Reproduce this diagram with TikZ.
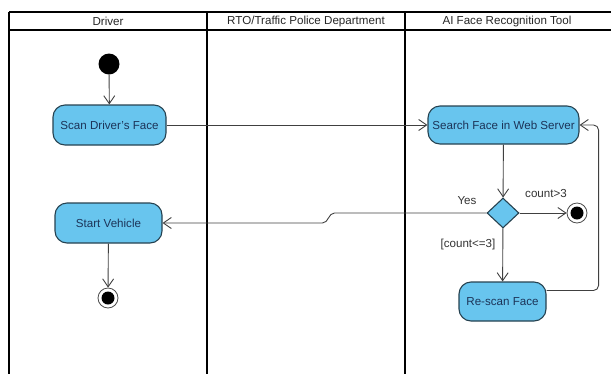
\documentclass[tikz,border=0pt]{standalone}
\usepackage{fontspec}
\setmainfont{Liberation Sans}
\usetikzlibrary{arrows.meta, shapes.geometric}

\definecolor{actfill}{RGB}{104,197,238}
\definecolor{actline}{RGB}{38,66,80}
\definecolor{acttext}{RGB}{28,52,88}
\definecolor{flowline}{RGB}{64,64,64}

\tikzset{
  txt/.style={font=\fontsize{11.6}{13}\selectfont},
  action/.style={txt, draw=actline, fill=actfill, text=acttext, line width=1.1pt,
    rounded corners=12pt, inner sep=0pt},
  decision/.style={diamond, draw=actline, fill=actfill, line width=1.1pt,
    minimum width=32pt, minimum height=30pt, inner sep=0pt},
  flow/.style={draw=flowline, line width=0.9pt, -{Straight Barb[length=8pt,width=11pt]}},
  lane/.style={line width=1.8pt},
  startstate/.style={circle, fill=black, minimum size=21pt, inner sep=0pt},
  endstate/.style={circle, draw=black!70, fill=white, line width=0.8pt,
    minimum size=20pt, inner sep=0pt,
    path picture={\fill[black] (path picture bounding box.center) circle (6.5pt);}},
  guard/.style={txt, text=black!80, inner sep=0pt}
}

\begin{document}
\begin{tikzpicture}[x=1pt,y=-1pt]
	\useasboundingbox (0,0) rectangle (611,376);

	% swimlanes
	\draw[lane](9,12) -- (611,12);
	\draw[lane](9,30) -- (611,30);
	\foreach \x in {9,207,405}
		\draw[lane](\x,12) -- (\x,374);
	\node[txt, text=black!85](hdriver) at (108,21) {Driver};
	\node[txt, text=black!85](hrto) at (306,21) {RTO/Traffic Police Department};
	\node[txt, text=black!85](htool) at (507,21) {AI Face Recognition Tool};

	% states
	\node[startstate](init) at (109,64) {};
	\node[action, minimum width=113pt, minimum height=40pt](scan) at (109.5,125) {Scan Driver's Face};
	\node[action, minimum width=151pt, minimum height=38pt](search) at (503.5,125) {Search Face in Web Server};
	\node[decision](dec) at (503,213) {};
	\node[endstate](fin2) at (577,213) {};
	\node[action, minimum width=87pt, minimum height=39pt](rescan) at (502.5,301.5) {Re-scan Face};
	\node[action, minimum width=107pt, minimum height=40pt](start) at (108.5,223) {Start Vehicle};
	\node[endstate](fin1) at (108,298) {};

	% guards
	\node[guard](gyes) at (467,201) {Yes};
	\node[guard](gmore) at (546,194) {count>3};
	\node[guard](gless) at (468,244) {[count<=3]};

	% flows
	\draw[flow](init) -- (scan);
	\draw[flow](scan) -- (search);
	\draw[flow](search) -- (dec);
	\draw[flow](dec) -- (fin2);
	\draw[flow](dec) -- (rescan);
	\draw[flow, rounded corners=5pt]([yshift=11pt]rescan.east) -- ++(52,0) |- (search.east);
	\draw[flow](dec.west) -- ++(-152,0) to[out=180,in=0] ++(-12,10) -- (start.east);
	\draw[flow](start) -- (fin1);
\end{tikzpicture}
\end{document}
